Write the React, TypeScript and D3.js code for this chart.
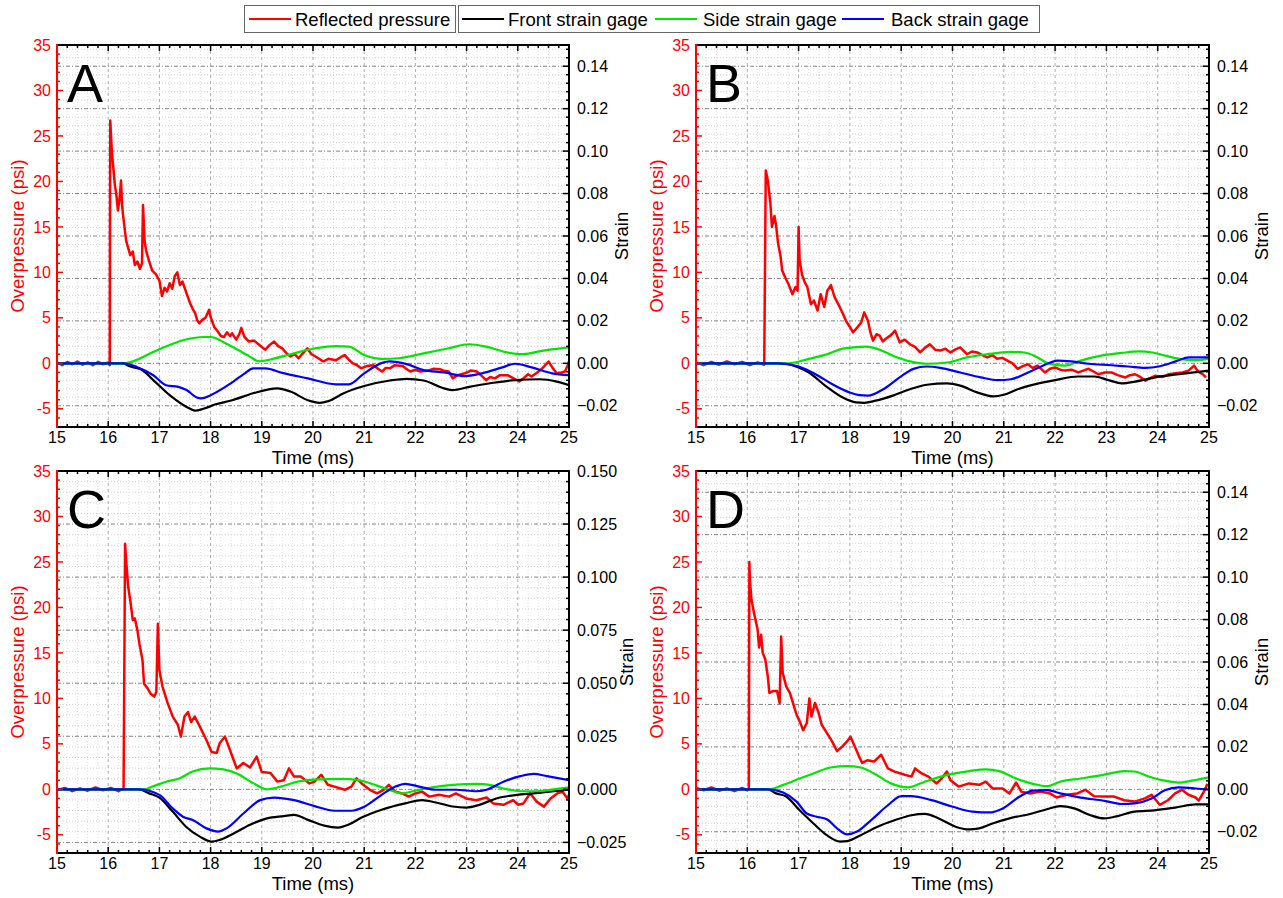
import React from 'react';
import * as d3 from 'd3';

type Pt = [number, number];

// time (ms), overpressure (psi) / strain (-)
const pressureA: Pt[] = [
  [15.0, 0.1], [15.1, -0.2], [15.2, 0.15], [15.3, -0.1], [15.4, 0.2], [15.5, -0.15], [15.6, 0.1], [15.7, -0.2],
  [15.8, 0.15], [15.9, -0.1], [16.0, 0.1], [16.03, -0.2], [16.04, 26.7], [16.07, 23.4], [16.1, 21.5], [16.13, 19.6],
  [16.16, 18.5], [16.19, 16.8], [16.22, 18.0], [16.25, 20.1], [16.27, 17.5], [16.29, 16.3], [16.35, 13.5], [16.43, 11.9],
  [16.48, 12.3], [16.52, 10.8], [16.57, 11.2], [16.62, 10.4], [16.66, 11.0], [16.68, 17.4], [16.71, 13.5], [16.74, 12.4],
  [16.8, 11.2], [16.86, 10.2], [16.93, 9.8], [17.0, 9.1], [17.05, 7.4], [17.1, 8.3], [17.15, 7.9], [17.2, 8.8],
  [17.25, 8.2], [17.3, 9.6], [17.35, 10.0], [17.4, 8.6], [17.45, 9.0], [17.53, 7.7], [17.6, 6.6], [17.65, 6.0],
  [17.7, 5.5], [17.74, 4.7], [17.78, 4.4], [17.84, 4.8], [17.9, 5.0], [17.94, 5.5], [17.97, 5.9], [18.0, 5.1],
  [18.07, 4.0], [18.14, 3.5], [18.2, 3.0], [18.26, 2.9], [18.32, 3.4], [18.38, 3.0], [18.42, 3.3], [18.5, 2.6],
  [18.56, 3.2], [18.6, 3.9], [18.66, 2.9], [18.75, 2.4], [18.85, 2.5], [19.0, 1.8], [19.07, 1.5], [19.15, 2.0],
  [19.24, 2.4], [19.32, 1.9], [19.4, 1.65], [19.5, 1.0], [19.56, 0.75], [19.64, 1.0], [19.72, 0.55], [19.8, 1.1],
  [19.89, 1.65], [19.97, 1.0], [20.05, 0.75], [20.12, 0.5], [20.2, 0.2], [20.3, 0.5], [20.45, 0.35], [20.55, 0.7],
  [20.62, 0.9], [20.7, 0.4], [20.78, 0.0], [20.86, -0.2], [20.94, -0.55], [21.05, -0.3], [21.18, -0.2], [21.27, -0.6],
  [21.35, -0.9], [21.42, -0.5], [21.5, -0.55], [21.6, -0.2], [21.75, -0.3], [21.82, -0.6], [21.9, -0.9], [22.0, -0.7],
  [22.1, -0.9], [22.24, -0.8], [22.36, -0.6], [22.48, -0.65], [22.58, -0.85], [22.65, -0.9], [22.73, -1.65], [22.82, -1.3],
  [22.97, -1.1], [23.08, -0.8], [23.2, -0.9], [23.3, -1.4], [23.38, -1.85], [23.46, -1.5], [23.55, -1.65], [23.65, -1.3],
  [23.8, -1.3], [23.9, -1.6], [24.03, -2.0], [24.12, -1.6], [24.2, -1.2], [24.27, -1.45], [24.38, -1.0], [24.47, -0.6],
  [24.6, 0.2], [24.68, -0.5], [24.76, -1.1], [24.85, -1.0], [24.92, -0.9], [24.97, -0.3], [25.0, 0.2],
];
const frontA: Pt[] = [
  [15, 0], [16.3, 0], [16.4, -0.0013], [16.64, -0.0028], [16.88, -0.0079], [17.2, -0.015], [17.6, -0.0214], [17.7, -0.0223],
  [17.86, -0.0214], [18.1, -0.0193], [18.42, -0.0174], [18.83, -0.0141], [19.3, -0.0118], [19.56, -0.0133], [19.9, -0.0174],
  [20.13, -0.0186], [20.3, -0.0178], [20.6, -0.0141], [21.0, -0.0107], [21.5, -0.0081], [21.83, -0.0073], [22.16, -0.0081],
  [22.56, -0.0118], [22.73, -0.0126], [23.05, -0.0111], [23.46, -0.0094], [23.94, -0.0079], [24.43, -0.0075], [24.76, -0.0086], [25, -0.0103],
];
const sideA: Pt[] = [
  [15, 0], [16.3, 0], [16.9, 0.0056], [17.1, 0.0077], [17.5, 0.0111], [17.86, 0.0124], [18.0, 0.0124], [18.3, 0.0094],
  [18.75, 0.0034], [18.95, 0.0009], [19.15, 0.0017], [19.56, 0.0043], [20.05, 0.0071], [20.45, 0.0081], [20.7, 0.0079],
  [21.0, 0.0039], [21.35, 0.0021], [21.67, 0.0024], [22.16, 0.0047], [22.65, 0.0071], [23.05, 0.009], [23.38, 0.0079],
  [23.8, 0.0051], [24.1, 0.0043], [24.5, 0.006], [25, 0.0075],
];
const backA: Pt[] = [
  [15, 0], [16.3, 0], [16.56, -0.0017], [16.88, -0.0056], [17.13, -0.0103], [17.37, -0.0111], [17.53, -0.0126], [17.73, -0.0161],
  [17.82, -0.0165], [18.0, -0.015], [18.34, -0.0103], [18.67, -0.0047], [18.83, -0.0024], [19.07, -0.0024], [19.4, -0.0045],
  [19.9, -0.0071], [20.45, -0.0099], [20.7, -0.0099], [21.0, -0.0047], [21.35, 0.0002], [21.5, 0.0009], [21.83, -0.0004],
  [22.16, -0.0032], [22.56, -0.0043], [22.97, -0.006], [23.3, -0.0047], [23.7, -0.0019], [23.94, -0.0002], [24.27, -0.0019],
  [24.67, -0.0047], [25, -0.0056],
];

const pressureB: Pt[] = [
  [15.0, 0.1], [15.15, -0.2], [15.3, 0.15], [15.45, -0.15], [15.6, 0.2], [15.75, -0.1], [15.9, 0.15], [16.05, -0.2],
  [16.2, 0.1], [16.33, -0.15], [16.36, 21.2], [16.4, 20.1], [16.45, 17.6], [16.48, 15.0], [16.53, 16.2], [16.56, 15.2],
  [16.6, 13.2], [16.65, 11.7], [16.68, 10.2], [16.75, 9.3], [16.8, 8.75], [16.88, 7.6], [16.94, 8.4], [16.98, 8.0],
  [17.0, 15.0], [17.02, 11.3], [17.07, 9.7], [17.12, 8.9], [17.17, 8.4], [17.24, 6.5], [17.3, 6.9], [17.37, 5.8],
  [17.43, 7.6], [17.5, 6.2], [17.56, 8.0], [17.63, 8.6], [17.7, 7.3], [17.8, 6.2], [17.86, 5.5], [17.92, 4.7],
  [18.0, 4.0], [18.06, 3.4], [18.15, 4.0], [18.22, 4.5], [18.28, 5.6], [18.35, 4.7], [18.4, 3.4], [18.45, 2.5],
  [18.52, 3.2], [18.58, 3.05], [18.64, 2.4], [18.7, 2.7], [18.8, 3.1], [18.88, 3.6], [18.97, 2.3], [19.07, 2.6],
  [19.17, 2.1], [19.27, 1.8], [19.37, 1.2], [19.46, 1.7], [19.56, 2.1], [19.66, 1.5], [19.76, 1.4], [19.86, 1.6],
  [19.96, 1.2], [20.05, 1.5], [20.15, 1.75], [20.28, 1.0], [20.38, 1.3], [20.48, 1.2], [20.58, 0.9], [20.68, 0.65],
  [20.78, 0.9], [20.87, 0.5], [20.97, 0.6], [21.07, 0.3], [21.17, 0.0], [21.27, -0.6], [21.37, -0.3], [21.47, -0.1],
  [21.56, -0.5], [21.66, -0.25], [21.8, -1.0], [21.9, -0.6], [22.0, -0.45], [22.1, -0.7], [22.19, -0.8], [22.32, -0.7],
  [22.45, -1.0], [22.55, -0.8], [22.65, -0.6], [22.75, -0.9], [22.84, -1.2], [22.97, -1.0], [23.1, -1.0], [23.22, -1.3],
  [23.37, -1.55], [23.46, -1.3], [23.56, -1.2], [23.66, -1.5], [23.76, -1.9], [23.86, -1.6], [23.96, -1.35], [24.1, -1.5],
  [24.22, -1.2], [24.35, -1.1], [24.48, -1.0], [24.6, -0.8], [24.71, -0.25], [24.76, -0.7], [24.81, -1.0], [24.88, -1.2],
  [24.94, -1.55],
];
const frontB: Pt[] = [
  [15, 0], [16.6, 0], [16.74, -0.0002], [17.0, -0.0019], [17.2, -0.0043], [17.53, -0.0107], [17.86, -0.0161], [18.12, -0.0184],
  [18.28, -0.0186], [18.5, -0.0176], [18.84, -0.0152], [19.17, -0.0122], [19.5, -0.0101], [19.9, -0.0094], [20.15, -0.0105],
  [20.48, -0.0137], [20.8, -0.0156], [21.0, -0.0148], [21.27, -0.0122], [21.6, -0.0099], [22.0, -0.0079], [22.45, -0.0062],
  [22.77, -0.0062], [23.04, -0.0079], [23.3, -0.0094], [23.56, -0.0086], [23.96, -0.0066], [24.42, -0.0051], [25, -0.0034],
];
const sideB: Pt[] = [
  [15, 0], [16.8, 0], [17.2, 0.0021], [17.53, 0.0041], [17.86, 0.0069], [18.06, 0.0075], [18.32, 0.0079], [18.58, 0.0064],
  [18.84, 0.0036], [19.17, 0.0009], [19.5, -0.0002], [19.9, 0.0004], [20.28, 0.0028], [20.68, 0.0043], [21.14, 0.0054],
  [21.4, 0.0051], [21.66, 0.0028], [21.86, 0], [22.19, -0.0011], [22.5, 0.0013], [22.9, 0.0036], [23.3, 0.0049],
  [23.63, 0.0056], [23.9, 0.0051], [24.15, 0.0036], [24.42, 0.0021], [24.74, 0.0015], [25, 0.0021],
];
const backB: Pt[] = [
  [15, 0], [16.6, 0], [17.0, -0.0015], [17.33, -0.0051], [17.66, -0.0099], [17.99, -0.0137], [18.19, -0.015], [18.35, -0.0152],
  [18.65, -0.0122], [18.97, -0.0066], [19.24, -0.0026], [19.5, -0.0015], [19.76, -0.0021], [20.15, -0.0043], [20.55, -0.0066],
  [20.88, -0.0079], [21.14, -0.0075], [21.4, -0.0051], [21.73, -0.0015], [22.05, 0.0013], [22.32, 0.0009], [22.65, -0.0002],
  [23.1, -0.0009], [23.43, -0.0015], [23.76, -0.0021], [24.02, -0.0015], [24.35, 0.0009], [24.61, 0.0028], [25, 0.0028],
];

const pressureC: Pt[] = [
  [15.0, -0.1], [15.15, 0.15], [15.3, -0.2], [15.45, 0.1], [15.6, -0.15], [15.75, 0.2], [15.9, -0.1], [16.05, 0.15],
  [16.2, -0.2], [16.3, 0.1], [16.33, 27.0], [16.35, 25.2], [16.39, 22.3], [16.44, 20.4], [16.48, 18.6], [16.52, 18.8],
  [16.57, 17.5], [16.61, 16.0], [16.67, 14.2], [16.7, 11.6], [16.77, 11.1], [16.83, 10.5], [16.9, 10.2], [16.94, 10.7],
  [16.97, 18.2], [17.0, 13.1], [17.06, 11.3], [17.16, 9.5], [17.26, 8.0], [17.36, 7.1], [17.42, 5.8], [17.49, 8.0],
  [17.56, 8.5], [17.62, 7.4], [17.69, 8.0], [17.79, 6.9], [17.92, 5.4], [18.02, 4.1], [18.12, 4.0], [18.18, 5.1],
  [18.28, 5.8], [18.38, 4.3], [18.51, 2.3], [18.64, 2.9], [18.77, 2.4], [18.9, 3.6], [19.0, 1.9], [19.17, 1.8],
  [19.3, 0.85], [19.43, 1.0], [19.53, 2.3], [19.63, 1.4], [19.76, 1.4], [19.93, 0.65], [20.03, 0.85], [20.16, 1.6],
  [20.29, 0.5], [20.42, 0.3], [20.62, -0.05], [20.75, 0.3], [20.85, 1.2], [20.95, 0.65], [21.11, -0.05], [21.25, -0.45],
  [21.38, -0.05], [21.48, 0.5], [21.61, -0.25], [21.74, -0.45], [21.87, -0.8], [22.0, -0.45], [22.13, -0.25], [22.27, -0.8],
  [22.46, -0.6], [22.66, -0.8], [22.79, -0.45], [22.99, -1.0], [23.19, -1.2], [23.39, -0.9], [23.52, -1.55], [23.72, -1.7],
  [23.91, -1.2], [24.01, -1.7], [24.11, -1.55], [24.24, -0.45], [24.37, -1.35], [24.51, -1.9], [24.64, -1.0], [24.77, -0.45],
  [24.87, -0.25], [24.97, -1.0], [25.0, -0.6],
];
const frontC: Pt[] = [
  [15, 0], [16.6, 0], [16.8, -0.0019], [17.0, -0.0039], [17.26, -0.0105], [17.52, -0.0176], [17.79, -0.0223], [18.02, -0.0246],
  [18.18, -0.0238], [18.45, -0.0208], [18.77, -0.0167], [19.1, -0.0137], [19.43, -0.0126], [19.63, -0.012], [19.9, -0.0144],
  [20.22, -0.0171], [20.49, -0.018], [20.69, -0.0167], [20.95, -0.0133], [21.34, -0.0096], [21.8, -0.0066], [22.13, -0.0051],
  [22.4, -0.0062], [22.73, -0.0081], [22.99, -0.0086], [23.25, -0.0073], [23.58, -0.0043], [23.98, -0.0026], [24.31, -0.0019],
  [24.7, -0.0009], [25, -0.0002],
];
const sideC: Pt[] = [
  [15, 0], [16.7, 0], [16.86, 0.0013], [17.13, 0.0036], [17.39, 0.0051], [17.65, 0.0084], [17.98, 0.0099], [18.25, 0.0094],
  [18.51, 0.0075], [18.84, 0.0028], [19.1, 0], [19.37, 0.0013], [19.7, 0.0036], [20.09, 0.0047], [20.55, 0.0049],
  [20.88, 0.0043], [21.21, 0.0021], [21.48, -0.0002], [21.74, -0.0019], [22.0, -0.0006], [22.33, 0.0009], [22.73, 0.0021],
  [23.19, 0.0026], [23.45, 0.0021], [23.72, 0.0004], [24.05, -0.0009], [24.37, -0.0009], [24.7, 0], [25, 0.0009],
];
const backC: Pt[] = [
  [15, 0], [16.6, 0], [17.0, -0.0026], [17.26, -0.009], [17.46, -0.0129], [17.65, -0.0144], [17.92, -0.0184], [18.15, -0.0199],
  [18.31, -0.0184], [18.64, -0.0114], [18.97, -0.0051], [19.24, -0.0039], [19.63, -0.0051], [20.03, -0.0079], [20.42, -0.0101],
  [20.75, -0.0101], [21.01, -0.0081], [21.34, -0.0026], [21.61, 0.0013], [21.8, 0.0026], [22.07, 0.0013], [22.4, -0.0002],
  [22.79, -0.0002], [23.19, -0.0009], [23.39, -0.0002], [23.72, 0.0036], [24.05, 0.0062], [24.31, 0.0073], [24.57, 0.0062], [25, 0.0043],
];

const pressureD: Pt[] = [
  [15.0, 0.15], [15.15, -0.1], [15.3, 0.2], [15.45, -0.15], [15.6, 0.1], [15.75, -0.2], [15.9, 0.15], [16.0, -0.1],
  [16.03, 0.1], [16.04, 25.0], [16.05, 23.1], [16.08, 20.9], [16.13, 19.4], [16.2, 17.6], [16.23, 15.6], [16.27, 17.0],
  [16.3, 15.0], [16.35, 14.3], [16.4, 12.4], [16.43, 10.6], [16.5, 10.8], [16.58, 10.8], [16.63, 9.5], [16.66, 16.8],
  [16.69, 12.8], [16.76, 11.3], [16.83, 10.6], [16.89, 9.5], [16.96, 8.2], [17.02, 7.5], [17.09, 6.5], [17.16, 7.3],
  [17.21, 10.0], [17.25, 8.0], [17.32, 9.5], [17.39, 8.4], [17.45, 7.1], [17.55, 6.2], [17.65, 5.3], [17.75, 4.2],
  [17.85, 4.7], [17.95, 5.3], [18.01, 5.8], [18.08, 4.9], [18.18, 3.6], [18.24, 2.9], [18.34, 3.2], [18.47, 3.05],
  [18.61, 3.8], [18.74, 2.3], [18.87, 1.95], [19.07, 1.6], [19.2, 1.4], [19.27, 2.3], [19.4, 1.75], [19.53, 1.4],
  [19.69, 0.65], [19.79, 1.2], [19.89, 1.95], [19.96, 1.0], [20.12, 0.3], [20.32, 0.65], [20.52, 0.5], [20.65, 0.85],
  [20.78, 0.1], [20.98, 0.1], [21.11, -0.45], [21.24, 0.75], [21.34, -0.25], [21.51, -0.45], [21.71, -0.25], [21.9, -0.45],
  [22.03, -0.9], [22.23, -0.6], [22.43, -0.45], [22.59, -0.05], [22.76, -0.75], [22.96, -0.8], [23.15, -0.8], [23.35, -1.2],
  [23.55, -1.35], [23.75, -1.0], [23.88, -0.6], [24.04, -1.7], [24.2, -1.2], [24.34, -0.45], [24.47, -0.05], [24.6, -0.6],
  [24.74, -0.9], [24.8, -1.25], [24.9, -0.25], [24.97, 0.6],
];
const frontD: Pt[] = [
  [15, 0], [16.4, 0], [16.56, -0.0019], [16.76, -0.0034], [17.02, -0.0099], [17.29, -0.0161], [17.55, -0.0216], [17.81, -0.0246],
  [17.95, -0.0244], [18.21, -0.0216], [18.54, -0.0176], [18.87, -0.0146], [19.2, -0.0122], [19.46, -0.0116], [19.73, -0.0137],
  [20.06, -0.0176], [20.32, -0.0189], [20.52, -0.0184], [20.78, -0.0161], [21.11, -0.0137], [21.51, -0.0116], [21.84, -0.0094],
  [22.1, -0.0079], [22.37, -0.009], [22.69, -0.0122], [22.96, -0.0137], [23.22, -0.0126], [23.55, -0.0105], [23.94, -0.0099],
  [24.34, -0.0086], [24.74, -0.0071], [25, -0.0071],
];
const sideD: Pt[] = [
  [15, 0], [16.43, 0], [16.7, 0.0021], [17.02, 0.0051], [17.29, 0.0075], [17.62, 0.0103], [17.95, 0.0109], [18.21, 0.0103],
  [18.47, 0.0075], [18.8, 0.0028], [19.13, 0.0009], [19.46, 0.0036], [19.92, 0.0069], [20.32, 0.0086], [20.65, 0.0094],
  [20.91, 0.0086], [21.24, 0.0051], [21.57, 0.0026], [21.84, 0.0015], [22.1, 0.0036], [22.5, 0.0051], [22.96, 0.0069],
  [23.35, 0.0086], [23.55, 0.0084], [23.81, 0.0062], [24.14, 0.0041], [24.41, 0.0032], [24.67, 0.0041], [25, 0.0056],
];
const backD: Pt[] = [
  [15, 0], [16.4, 0], [16.7, -0.0015], [16.96, -0.0058], [17.16, -0.0114], [17.35, -0.0129], [17.55, -0.0141], [17.75, -0.0184],
  [17.95, -0.0212], [18.14, -0.0199], [18.41, -0.0146], [18.74, -0.0075], [19.0, -0.0032], [19.2, -0.0032], [19.59, -0.0051],
  [19.99, -0.0081], [20.39, -0.0105], [20.72, -0.0109], [20.98, -0.009], [21.31, -0.0034], [21.57, -0.0006], [21.84, -0.0004],
  [22.1, -0.0019], [22.5, -0.0039], [22.96, -0.0054], [23.29, -0.0069], [23.55, -0.0066], [23.88, -0.0043], [24.14, -0.0004],
  [24.41, 0.0009], [24.74, 0.0004], [25, -0.0002],
];

const timeTicks = [15, 16, 17, 18, 19, 20, 21, 22, 23, 24, 25];
const pressureTicks = [-5, 0, 5, 10, 15, 20, 25, 30, 35];
const strainTicks = [-0.02, 0, 0.02, 0.04, 0.06, 0.08, 0.1, 0.12, 0.14];
const strainTicksC = [-0.025, 0, 0.025, 0.05, 0.075, 0.1, 0.125, 0.15];

const legendItems = [
  { label: 'Reflected pressure', color: '#ff0000' },
  { label: 'Front strain gage', color: '#000000' },
  { label: 'Side strain gage', color: '#00e600' },
  { label: 'Back strain gage', color: '#0000ff' },
];

const FONT = '"Liberation Sans", Arial, sans-serif';

type PanelProps = {
  id: string;
  x0: number; x1: number; y0: number; y1: number;
  letter: string;
  pressure: Pt[]; front: Pt[]; side: Pt[]; back: Pt[];
  rTicks: number[]; rStep: number; rDigits: number;
};

function Panel(p: PanelProps) {
  const x = d3.scaleLinear().domain([15, 25]).range([p.x0, p.x1]);
  const yL = d3.scaleLinear().domain([-7, 35]).range([p.y1, p.y0]);
  const yR = d3.scaleLinear().domain([-0.03, 0.15]).range([p.y1, p.y0]);

  const lineP = d3.line<Pt>().x(d => x(d[0])).y(d => yL(d[1]));
  const lineS = d3.line<Pt>().x(d => x(d[0])).y(d => yR(d[1])).curve(d3.curveMonotoneX);

  const xMinor = d3.range(0, 51).map(i => 15 + i * 0.2).filter((_, i) => i % 5 !== 0);
  const yLMinor = d3.range(-7, 36).filter(v => v % 5 !== 0);
  const nR = Math.round(p.rStep / (p.rStep === 0.02 ? 0.004 : 0.005));
  const rSub = p.rStep / nR;
  const rMinor = d3.range(Math.ceil(-0.03 / rSub - 1e-6), Math.floor(0.15 / rSub + 1e-6) + 1)
    .filter(i => i % nR !== 0)
    .map(i => i * rSub);
  const clip = `clip-${p.id}`;

  return (
    <g>
      <defs>
        <clipPath id={clip}>
          <rect x={p.x0} y={p.y0} width={p.x1 - p.x0} height={p.y1 - p.y0} />
        </clipPath>
      </defs>
      {/* grid */}
      <g strokeWidth={0.8} fill="none">
        {xMinor.map((t, i) => (
          <line key={'xm' + i} x1={x(t)} x2={x(t)} y1={p.y0} y2={p.y1} stroke="#d8d8d8" strokeDasharray="1,2" />
        ))}
        {rMinor.map((v, i) => (
          <line key={'rm' + i} x1={p.x0} x2={p.x1} y1={yR(v)} y2={yR(v)} stroke="#c4c4c4" strokeDasharray="1,2" />
        ))}
        {timeTicks.slice(1, -1).map(t => (
          <line key={'xg' + t} x1={x(t)} x2={x(t)} y1={p.y0} y2={p.y1} stroke="#999" strokeDasharray="3,3" />
        ))}
        {p.rTicks.filter(v => v < 0.149).map(v => (
          <line key={'rg' + v} x1={p.x0} x2={p.x1} y1={yR(v)} y2={yR(v)} stroke="#666" strokeDasharray="4,2,1,2" />
        ))}
      </g>
      {/* data */}
      <g clipPath={`url(#${clip})`} fill="none" strokeLinejoin="round">
        <path d={lineP(p.pressure) || ''} stroke="#ff0000" strokeWidth={2.5} />
        <path d={lineS(p.front) || ''} stroke="#000000" strokeWidth={2.2} />
        <path d={lineS(p.side) || ''} stroke="#00e600" strokeWidth={2.2} />
        <path d={lineS(p.back) || ''} stroke="#0000ff" strokeWidth={2.2} />
      </g>
      {/* ticks */}
      <g strokeWidth={1.5}>
        {xMinor.map((t, i) => (
          <g key={'xt' + i} stroke="#000">
            <line x1={x(t)} x2={x(t)} y1={p.y1} y2={p.y1 - 3} />
            <line x1={x(t)} x2={x(t)} y1={p.y0} y2={p.y0 + 3} />
          </g>
        ))}
        {timeTicks.map(t => (
          <g key={'xT' + t} stroke="#000">
            <line x1={x(t)} x2={x(t)} y1={p.y1} y2={p.y1 - 6} />
            <line x1={x(t)} x2={x(t)} y1={p.y0} y2={p.y0 + 6} />
          </g>
        ))}
        {yLMinor.map(v => (
          <line key={'lm' + v} x1={p.x0} x2={p.x0 + 3} y1={yL(v)} y2={yL(v)} stroke="#ff0000" />
        ))}
        {pressureTicks.map(v => (
          <line key={'lT' + v} x1={p.x0} x2={p.x0 + 6} y1={yL(v)} y2={yL(v)} stroke="#ff0000" />
        ))}
        {rMinor.map((v, i) => (
          <line key={'rt' + i} x1={p.x1} x2={p.x1 - 3} y1={yR(v)} y2={yR(v)} stroke="#000" />
        ))}
        {p.rTicks.map(v => (
          <line key={'rT' + v} x1={p.x1} x2={p.x1 - 6} y1={yR(v)} y2={yR(v)} stroke="#000" />
        ))}
      </g>
      {/* frame */}
      <g strokeWidth={2} fill="none">
        <line x1={p.x0} x2={p.x1 + 1} y1={p.y0} y2={p.y0} stroke="#000" />
        <line x1={p.x0} x2={p.x1 + 1} y1={p.y1} y2={p.y1} stroke="#000" />
        <line x1={p.x1} x2={p.x1} y1={p.y0} y2={p.y1} stroke="#000" />
        <line x1={p.x0} x2={p.x0} y1={p.y0 - 1} y2={p.y1 + 1} stroke="#ff0000" />
      </g>
      {/* labels */}
      <g fontFamily={FONT} fontSize={16}>
        {timeTicks.map(t => (
          <text key={'xl' + t} x={x(t)} y={p.y1 + 16} textAnchor="middle" fill="#000">{t}</text>
        ))}
        {pressureTicks.map(v => (
          <text key={'ll' + v} x={p.x0 - 6} y={yL(v)} dy="0.35em" textAnchor="end" fill="#ff0000">{v}</text>
        ))}
        {p.rTicks.map(v => (
          <text key={'rl' + v} x={p.x1 + 8} y={yR(v)} dy="0.35em" textAnchor="start" fill="#000">
            {d3.format(`.${p.rDigits}f`)(Math.abs(v) < 1e-9 ? 0 : v)}
          </text>
        ))}
      </g>
      <g fontFamily={FONT} fontSize={18.5}>
        <text x={(p.x0 + p.x1) / 2} y={p.y1 + 37} textAnchor="middle" fill="#000">Time (ms)</text>
        <text transform={`translate(${p.x0 - 39},${(p.y0 + p.y1) / 2}) rotate(-90)`} dy="0.35em" textAnchor="middle" fill="#ff0000">
          Overpressure (psi)
        </text>
        <text
          transform={`translate(${p.x1 + (p.rDigits === 3 ? 58 : 53)},${(p.y0 + p.y1) / 2}) rotate(-90)`}
          dy="0.35em" textAnchor="middle" fill="#000"
        >
          Strain
        </text>
      </g>
      <text x={p.x0 + 10} y={p.y0 + 57} fontFamily={FONT} fontSize={54} fill="#000">{p.letter}</text>
    </g>
  );
}

function Legend() {
  const boxes = [
    { x: 244, w: 211, items: [{ i: 0, lx: 249, tx: 295 }] },
    { x: 458, w: 581, items: [{ i: 1, lx: 462, tx: 508 }, { i: 2, lx: 655, tx: 703 }, { i: 3, lx: 842, tx: 891 }] },
  ];
  return (
    <g fontFamily={FONT} fontSize={18.5}>
      {boxes.map((b, bi) => (
        <g key={bi}>
          <rect x={b.x + 0.5} y={5.5} width={b.w} height={27} fill="#fff" stroke="#666" strokeWidth={1} />
          {b.items.map(it => (
            <g key={it.i}>
              <line x1={it.lx} x2={it.lx + 42} y1={19} y2={19} stroke={legendItems[it.i].color} strokeWidth={2} />
              <text x={it.tx} y={26} fill="#000">{legendItems[it.i].label}</text>
            </g>
          ))}
        </g>
      ))}
    </g>
  );
}

export default function App() {
  return (
    <svg width={1283} height={898} style={{ position: 'absolute', left: 0, top: 0, background: '#fff' }}>
      <rect width={1283} height={898} fill="#fff" />
      <Legend />
      <Panel id="A" x0={57} x1={569} y0={45} y1={427} letter="A"
        pressure={pressureA} front={frontA} side={sideA} back={backA}
        rTicks={strainTicks} rStep={0.02} rDigits={2} />
      <Panel id="B" x0={696} x1={1209} y0={45} y1={427} letter="B"
        pressure={pressureB} front={frontB} side={sideB} back={backB}
        rTicks={strainTicks} rStep={0.02} rDigits={2} />
      <Panel id="C" x0={57} x1={569} y0={471} y1={853} letter="C"
        pressure={pressureC} front={frontC} side={sideC} back={backC}
        rTicks={strainTicksC} rStep={0.025} rDigits={3} />
      <Panel id="D" x0={696} x1={1209} y0={471} y1={853} letter="D"
        pressure={pressureD} front={frontD} side={sideD} back={backD}
        rTicks={strainTicks} rStep={0.02} rDigits={2} />
    </svg>
  );
}
